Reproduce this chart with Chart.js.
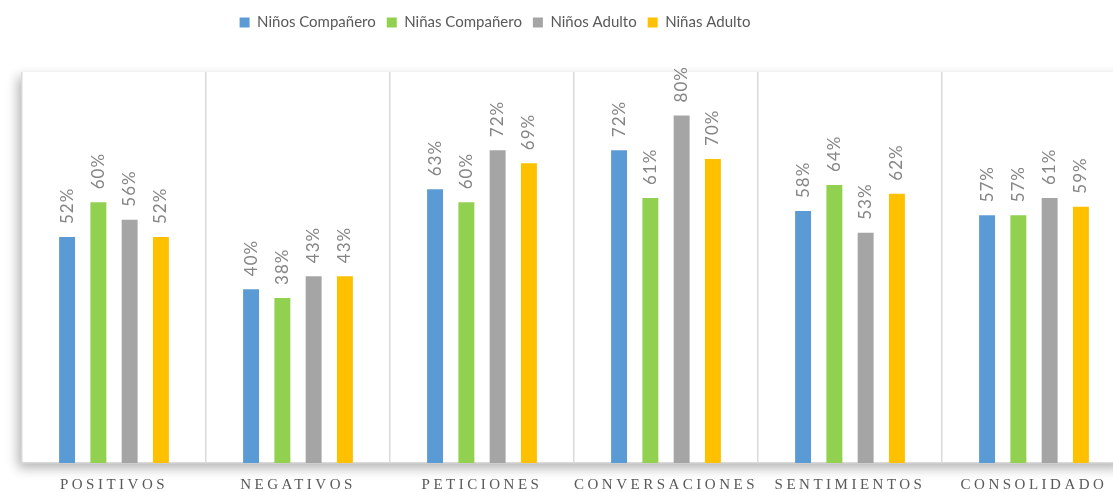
<!DOCTYPE html>
<html>
<head>
<meta charset="utf-8">
<script src="https://cdn.jsdelivr.net/npm/chart.js@4/dist/chart.umd.min.js"></script>
<style>
    html, body { margin: 0; padding: 0; background: #fff; overflow: hidden; }
    #contenedor { width: 1140px; height: 492px; }
</style>
</head>
<body>
<div id="contenedor">
    <canvas id="graficoHabilidades" width="1140" height="492"></canvas>
</div>
<script>
// datos
const categorias = ['POSITIVOS', 'NEGATIVOS', 'PETICIONES', 'CONVERSACIONES', 'SENTIMIENTOS', 'CONSOLIDADO'];
const series = ['Niños Compañero', 'Niñas Compañero', 'Niños Adulto', 'Niñas Adulto'];
const ninosCompanero = [52, 40, 63, 72, 58, 57];
const ninasCompanero = [60, 38, 60, 61, 64, 57];
const ninosAdulto = [56, 43, 72, 80, 53, 61];
const ninasAdulto = [52, 43, 69, 70, 62, 59];
const listaColores = ['#5B9BD5', '#92D050', '#A5A5A5', '#FFC000'];

function loadPage() {
    let ctx = document.getElementById("graficoHabilidades");

    // fondo blanco con sombra detras del area del grafico
    let sombraArea = {
        id: 'sombraArea',
        beforeDraw: function(chart) {
            let c = chart.ctx;
            let a = chart.chartArea;
            c.letterSpacing = '0px';
            c.save();
            c.shadowColor = 'rgba(0,0,0,0.3)';
            c.shadowBlur = 11;
            c.shadowOffsetX = -4;
            c.shadowOffsetY = 5;
            c.fillStyle = '#ffffff';
            c.fillRect(a.left, a.top, a.right - a.left, a.bottom - a.top);
            c.restore();
        }
    };

    // porcentajes verticales sobre cada barra
    let etiquetas = {
        id: 'etiquetas',
        afterDatasetsDraw: function(chart) {
            let c = chart.ctx;
            c.save();
            c.font = '17px Lato, "Liberation Sans", sans-serif';
            c.fillStyle = '#858585';
            c.textAlign = 'left';
            c.textBaseline = 'middle';
            c.letterSpacing = '1px';
            chart.data.datasets.forEach((ds, i) => {
                chart.getDatasetMeta(i).data.forEach((barra, j) => {
                    c.save();
                    c.translate(barra.x, barra.y - 13);
                    c.rotate(-Math.PI / 2);
                    c.fillText(ds.data[j] + '%', 0, 0);
                    c.restore();
                });
            });
            c.restore();
            // espaciado para las etiquetas del eje x (se dibujan despues)
            c.letterSpacing = '3.5px';
        },
        afterDraw: function(chart) {
            chart.ctx.letterSpacing = '0px';
        }
    };

    // mas espacio debajo de la leyenda y moverla a la izquierda
    let ajusteLeyenda = {
        id: 'ajusteLeyenda',
        beforeInit: function(chart) {
            let fitOriginal = chart.legend.fit;
            chart.legend.fit = function() {
                fitOriginal.bind(chart.legend)();
                this.height += 32;
            };
        },
        afterLayout: function(chart) {
            let l = chart.legend;
            let mover = 500 - (l.left + l.right + 10) / 2;
            l.left += mover;
            l.right += mover;
        }
    };

    let datos = {
        labels: categorias,
        datasets: [
            { label: series[0], data: ninosCompanero, backgroundColor: listaColores[0] },
            { label: series[1], data: ninasCompanero, backgroundColor: listaColores[1] },
            { label: series[2], data: ninosAdulto, backgroundColor: listaColores[2] },
            { label: series[3], data: ninasAdulto, backgroundColor: listaColores[3] }
        ]
    };

    new Chart(ctx.getContext('2d'), {
        type: 'bar',
        data: datos,
        plugins: [sombraArea, etiquetas, ajusteLeyenda],
        options: {
            responsive: false,
            animation: false,
            datasets: {
                bar: { categoryPercentage: 0.68, barPercentage: 0.51 }
            },
            layout: { padding: { top: 4, left: 22, right: 14, bottom: -15 } },
            plugins: {
                legend: {
                    position: 'top',
                    labels: {
                        boxWidth: 10,
                        boxHeight: 10,
                        padding: 11,
                        color: '#595959',
                        font: { family: 'Lato, sans-serif', size: 15 }
                    }
                },
                tooltip: { enabled: false }
            },
            scales: {
                x: {
                    grid: { color: '#d9d9d9', lineWidth: 1.5, drawTicks: false, offset: true },
                    border: { color: '#d9d9d9', width: 1.5 },
                    ticks: {
                        z: 1,
                        padding: 13,
                        autoSkip: false,
                        maxRotation: 0,
                        color: '#595959',
                        font: { family: '"Liberation Serif", serif', size: 15 }
                    }
                },
                y: {
                    display: false,
                    min: 0,
                    max: 90
                }
            }
        }
    });
}
window.addEventListener("DOMContentLoaded", loadPage);
</script>
</body>
</html>
